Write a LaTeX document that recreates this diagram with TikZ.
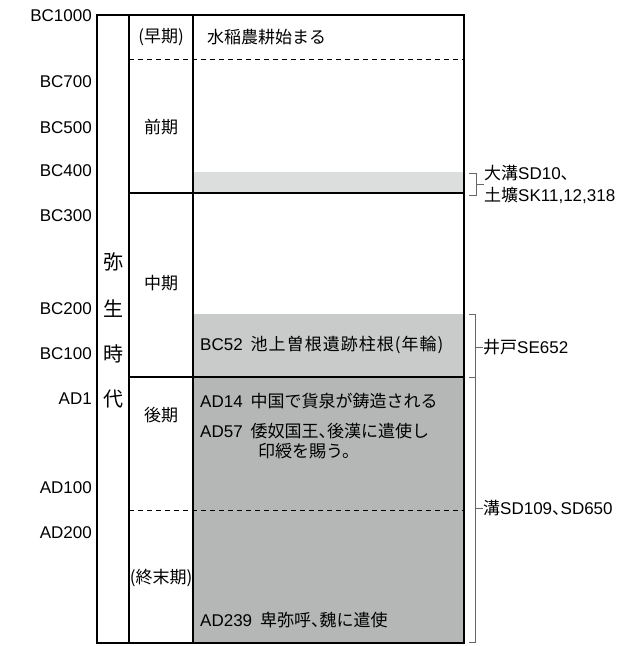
\documentclass[tikz,border=0pt]{standalone}
\usepackage{fontspec}
\setmainfont{Noto Sans CJK JP}
\newfontfamily\latf{Liberation Sans}
\newfontfamily\paltf[RawFeature=+palt]{Noto Sans CJK JP}
\newfontfamily\widef[LetterSpace=6]{Noto Sans CJK JP}
\newcommand\La[1]{{\latf #1}}
\newcommand\tou{{\paltf 、}}
\newcommand\gap{\hspace{8pt}}
\begin{document}
\begin{tikzpicture}[x=1pt,y=-1pt,
  frame/.style={line width=1.8pt,black},
  dashline/.style={line width=0.8pt,dash pattern=on 5pt off 4pt},
  brk/.style={line width=0.9pt,black!60},
  lbl/.style={inner sep=0pt,font=\fontsize{17}{20}\selectfont},
  era/.style={inner sep=0pt,font=\fontsize{20}{24}\selectfont},
  yr/.style={lbl,anchor=east,font=\fontsize{17}{20}\selectfont\latf},
  ev/.style={lbl,anchor=west},
]
\useasboundingbox (0,0) rectangle (631,646);
\definecolor{gA}{RGB}{220,221,221}
\definecolor{gB}{RGB}{201,202,202}
\definecolor{gC}{RGB}{181,182,182}
% bands
\fill[gA] (193,172) rectangle (464,193);
\fill[gB] (193,314) rectangle (464,377);
\fill[gC] (193,377) rectangle (464,643);
% dashed
\draw[dashline] (129,59) -- (464,59);
\draw[dashline] (129,510) -- (464,510);
% frame
\draw[frame] (97,15) rectangle (464,643);
\draw[frame] (129,15) -- (129,643);
\draw[frame] (193,15) -- (193,643);
\draw[frame] (129,193) -- (464,193);
\draw[frame] (129,377) -- (464,377);
% year labels
\node[yr] (y1) at (92,16) {BC1000};
\node[yr] (y2) at (92,82) {BC700};
\node[yr] (y3) at (92,128) {BC500};
\node[yr] (y4) at (92,171) {BC400};
\node[yr] (y5) at (92,216) {BC300};
\node[yr] (y6) at (92,309) {BC200};
\node[yr] (y7) at (92,354) {BC100};
\node[yr] (y8) at (92,399) {AD1};
\node[yr] (y9) at (92,488) {AD100};
\node[yr] (y10) at (92,533) {AD200};
% era vertical
\node[era] (e1) at (113,262) {弥};
\node[era] (e2) at (113,309) {生};
\node[era] (e3) at (113,354) {時};
\node[era] (e4) at (113,399) {代};
% periods
\node[lbl] (p1) at (161,37) {(早期)};
\node[lbl] (p2) at (161,127) {前期};
\node[lbl] (p3) at (161,283) {中期};
\node[lbl] (p4) at (161,415) {後期};
\node[lbl] (p5) at (161,578) {(終末期)};
% events
\node[ev] (v1) at (207,37) {水稲農耕始まる};
\node[ev] (v2) at (200,345) {\La{BC52}\gap{\widef 池上曽根遺跡柱根(年輪)}};
\node[ev] (v3) at (200,401) {\La{AD14}\gap 中国で貨泉が鋳造される};
\node[ev] (v4) at (200,431) {\La{AD57}\gap 倭奴国王\tou 後漢に遣使し};
\node[ev] (v5) at (258,451) {印綬を賜う。};
\node[ev] (v6) at (200,620) {\La{AD239}\gap 卑弥呼\tou 魏に遣使};
% brackets
\coordinate (b1t) at (469,173);
\coordinate (b1b) at (469,195);
\coordinate (b1m) at (476,184);
\draw[brk] (b1t) -- (476,173) -- (476,195) -- (b1b);
\node[ev] (s1) at (484,173) {大溝\La{SD10}\tou};
\node[ev] (s2) at (484,195) {土壙\La{SK11,12,318}};
\draw[brk] (b1m) -- (s1.west |- b1m);
\coordinate (b2t) at (469,314);
\coordinate (b2m) at (469,377);
\coordinate (b2b) at (469,642);
\draw[brk] (b2t) -- (475,314) -- (475,642) -- (b2b);
\draw[brk] (b2m) -- (475,377);
\node[ev] (s3) at (483,347) {井戸\La{SE652}};
\node[ev] (s4) at (483,508) {溝\La{SD109}\tou\La{SD650}};
\draw[brk] (475,347) -- (s3.west);
\draw[brk] (475,508) -- (s4.west);
\end{tikzpicture}
\end{document}
